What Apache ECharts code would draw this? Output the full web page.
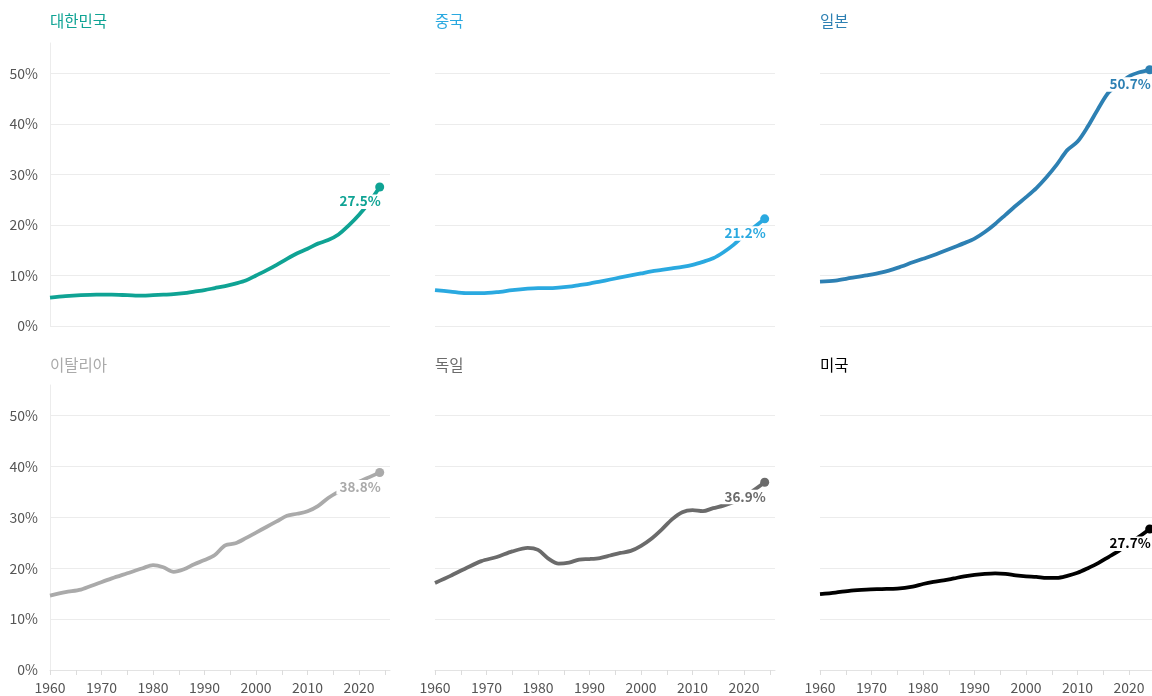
<!DOCTYPE html>
<html>
<head>
<meta charset="utf-8">
<script src="https://cdn.jsdelivr.net/npm/echarts@6/dist/echarts.min.js"></script>
<style>
  html, body { margin: 0; padding: 0; background: #fff; overflow: hidden; }
  #chart { width: 1162px; height: 696px; }
</style>
</head>
<body>
<div id="chart"></div>
<script>
// sample years
const years = [1960, 1963, 1966, 1969, 1972, 1975, 1978, 1980, 1982, 1984, 1986, 1988, 1990, 1992, 1994,
  1996, 1998, 2000, 2002, 2004, 2006, 2008, 2010, 2012, 2014, 2016, 2018, 2020, 2022, 2024];

const korea = [5.6, 5.9, 6.1, 6.2, 6.2, 6.1, 6.0, 6.1, 6.2, 6.3, 6.5, 6.8, 7.1, 7.5, 7.9,
  8.4, 9.0, 10.0, 11.0, 12.1, 13.3, 14.4, 15.3, 16.3, 17.0, 18.1, 19.9, 22.0, 24.5, 27.5];
const china = [7.1, 6.8, 6.5, 6.5, 6.7, 7.1, 7.4, 7.5, 7.5, 7.6, 7.8, 8.1, 8.4, 8.8, 9.2,
  9.6, 10.0, 10.4, 10.8, 11.1, 11.4, 11.7, 12.1, 12.7, 13.4, 14.6, 16.1, 18.0, 19.6, 21.2];
const japan = [8.8, 9.0, 9.5, 10.0, 10.6, 11.5, 12.6, 13.3, 14.0, 14.8, 15.6, 16.4, 17.3, 18.6, 20.2,
  22.0, 23.8, 25.5, 27.3, 29.5, 32.0, 34.8, 36.5, 39.5, 43.0, 46.2, 47.9, 49.4, 50.2, 50.7];
const italy = [14.6, 15.3, 15.8, 16.9, 18.0, 19.0, 20.0, 20.6, 20.2, 19.3, 19.8, 20.8, 21.6, 22.6, 24.5,
  24.9, 25.9, 27.0, 28.1, 29.2, 30.3, 30.7, 31.2, 32.2, 33.8, 35.0, 36.0, 37.0, 37.9, 38.8];
const germany = [17.1, 18.5, 20.0, 21.4, 22.2, 23.3, 24.0, 23.6, 21.9, 20.9, 21.1, 21.7, 21.8, 22.0, 22.5,
  23.0, 23.4, 24.4, 25.8, 27.6, 29.6, 31.0, 31.4, 31.2, 31.8, 32.3, 33.0, 34.0, 35.4, 36.9];
const usa = [14.9, 15.2, 15.6, 15.8, 15.9, 16.0, 16.4, 16.9, 17.3, 17.6, 18.0, 18.4, 18.7, 18.9, 19.0,
  18.9, 18.6, 18.4, 18.3, 18.1, 18.1, 18.5, 19.1, 20.0, 21.0, 22.2, 23.4, 24.8, 26.2, 27.7];

const names = ['대한민국', '중국', '일본', '이탈리아', '독일', '미국'];
const colors = ['#0fa394', '#2aa9e0', '#2d80b3', '#aaaaaa', '#6b6b6b', '#000000'];
const allValues = [korea, china, japan, italy, germany, usa];

const yTicks = [0, 10, 20, 30, 40, 50];
const xLabels = [1960, 1970, 1980, 1990, 2000, 2010, 2020];
const xTicks = [1960, 1965, 1970, 1975, 1980, 1985, 1990, 1995, 2000, 2005, 2010, 2015, 2020, 2025];

const FONT = '"Noto Sans CJK KR", "Noto Sans", sans-serif';
const colLeft = [50, 435, 820];
const rowTop = [43, 385];
const rowHeight = [283, 285];

const chart = echarts.init(document.getElementById('chart'));

let grid = [], xAxis = [], yAxis = [], series = [], title = [];

allValues.forEach(function (vals, i) {
  const row = Math.floor(i / 3), col = i % 3;
  const color = colors[i];
  grid.push({ left: colLeft[col], top: rowTop[row], width: 340, height: rowHeight[row] });
  title.push({
    text: names[i],
    left: colLeft[col] - 5,
    top: row === 0 ? 8 : 352,
    textStyle: { color: color, fontSize: 15.5, fontWeight: 'normal', fontFamily: FONT }
  });
  xAxis.push({
    type: 'value', gridIndex: i, min: 1960, max: 2026,
    splitLine: { show: false },
    axisLine: { show: row === 1, lineStyle: { color: '#e3e3e3' } },
    axisTick: { show: row === 1, customValues: xTicks, length: 5, lineStyle: { color: '#dcdcdc' } },
    axisLabel: {
      show: row === 1, customValues: xLabels, color: '#555', fontSize: 14, margin: 11, fontFamily: FONT,
      formatter: function (v) { return String(v); }
    }
  });
  yAxis.push({
    type: 'value', gridIndex: i, min: 0, max: 56,
    axisLine: { show: col === 0, lineStyle: { color: '#ececec' } },
    axisTick: { show: false, customValues: yTicks },
    splitLine: { show: true, lineStyle: { color: '#ececec', width: 1 } },
    axisLabel: {
      show: col === 0, customValues: yTicks, color: '#555', fontSize: 14, margin: 12, fontFamily: FONT,
      formatter: '{value}%'
    }
  });
  series.push({
    type: 'line', xAxisIndex: i, yAxisIndex: i, z: 2,
    data: years.map(function (y, k) { return [y, vals[k]]; }),
    symbol: 'none', smooth: 0.3,
    lineStyle: { color: color, width: 3.8 },
    silent: true
  });
  const last = years.length - 1;
  series.push({
    type: 'scatter', xAxisIndex: i, yAxisIndex: i, z: 10,
    data: [[years[last], vals[last]]],
    symbol: 'circle', symbolSize: 9,
    itemStyle: { color: color, opacity: 1 },
    label: {
      show: true, position: 'bottom', align: 'right', distance: 3, offset: [3, 0],
      formatter: function (p) { return p.value[1].toFixed(1) + '%'; },
      color: color, fontSize: 13.5, fontWeight: 'bold', fontFamily: FONT,
      backgroundColor: '#fff', padding: [0, 2, 1, 3]
    },
    silent: true
  });
});

chart.setOption({
  backgroundColor: '#fff',
  animation: false,
  title: title,
  grid: grid,
  xAxis: xAxis,
  yAxis: yAxis,
  series: series
});
</script>
</body>
</html>
